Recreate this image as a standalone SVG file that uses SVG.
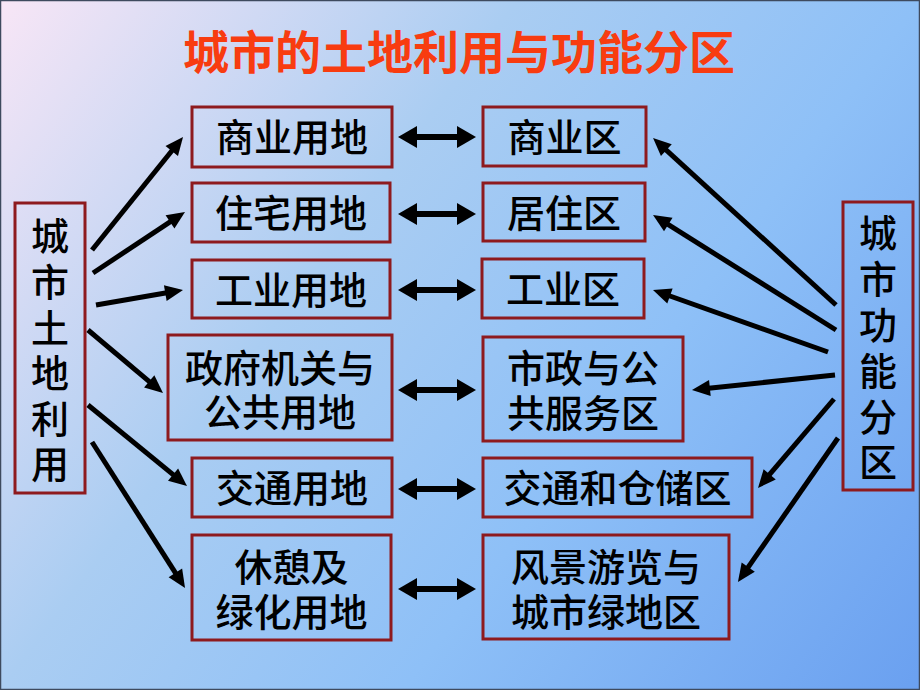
<svg xmlns="http://www.w3.org/2000/svg" width="920" height="690" viewBox="0 0 920 690">
<defs>
<linearGradient id="bg" gradientUnits="userSpaceOnUse" x1="0" y1="0" x2="920" y2="690">
<stop offset="0" stop-color="#F8E6F6"/>
<stop offset="0.36" stop-color="#AACDF2"/>
<stop offset="0.64" stop-color="#8EC0F7"/>
<stop offset="1" stop-color="#6AA0F0"/>
</linearGradient>
<marker id="ah" markerUnits="userSpaceOnUse" markerWidth="20" markerHeight="18" viewBox="0 -9 18 18" refX="6" refY="0" orient="auto">
<path d="M0,-8 L18,0 L0,8 z" fill="#000"/>
</marker>
<marker id="dh" markerUnits="userSpaceOnUse" markerWidth="20" markerHeight="24" viewBox="0 -12 19 24" refX="5" refY="0" orient="auto-start-reverse">
<path d="M0,-11 L19,0 L0,11 z" fill="#000"/>
</marker>
<style>
.box{fill:none;stroke:#8E1A1E;stroke-width:3}
.t{font-family:"Noto Sans CJK SC","Noto Sans CJK JP",sans-serif;font-size:38px;font-weight:500;fill:#000;text-anchor:middle}
.title{font-family:"Noto Sans CJK SC","Noto Sans CJK JP",sans-serif;font-size:46px;font-weight:bold;fill:#F83C10;text-anchor:middle}
.a{stroke:#000;stroke-width:5;fill:none;marker-end:url(#ah)}
.d{stroke:#000;stroke-width:6;fill:none;marker-start:url(#dh);marker-end:url(#dh)}
</style>
</defs>
<rect x="0" y="0" width="920" height="690" fill="url(#bg)"/>
<rect x="0.5" y="0.5" width="919" height="689" fill="none" stroke="#3E4A5E" stroke-width="1.5"/>
<text class="title" x="459" y="68.5">城市的土地利用与功能分区</text>

<g id="land-use">
<rect class="box" x="15" y="203" width="70" height="290"/>
<text class="t"><tspan x="50" y="250.4">城</tspan><tspan x="50" y="296">市</tspan><tspan x="50" y="341.6">土</tspan><tspan x="50" y="387.2">地</tspan><tspan x="50" y="432.8">利</tspan><tspan x="50" y="478.4">用</tspan></text>
</g>
<g id="function-zone">
<rect class="box" x="843" y="202" width="70" height="288"/>
<text class="t"><tspan x="878" y="247.4">城</tspan><tspan x="878" y="293.2">市</tspan><tspan x="878" y="339">功</tspan><tspan x="878" y="384.8">能</tspan><tspan x="878" y="430.6">分</tspan><tspan x="878" y="476.4">区</tspan></text>
</g>

<g id="commercial-land"><rect class="box" x="192" y="107" width="200" height="60"/><text class="t" x="292" y="151.4">商业用地</text></g>
<g id="residential-land"><rect class="box" x="192" y="183" width="198" height="59"/><text class="t" x="291" y="227">住宅用地</text></g>
<g id="industrial-land"><rect class="box" x="192" y="260" width="198" height="58"/><text class="t" x="291" y="303.5">工业用地</text></g>
<g id="public-land"><rect class="box" x="168" y="335" width="224" height="105"/><text class="t"><tspan x="280" y="382">政府机关与</tspan><tspan x="280" y="426">公共用地</tspan></text></g>
<g id="transport-land"><rect class="box" x="192" y="458" width="200" height="59"/><text class="t" x="292" y="502">交通用地</text></g>
<g id="green-land"><rect class="box" x="192" y="535" width="199" height="105"/><text class="t"><tspan x="291.5" y="580.5">休憩及</tspan><tspan x="291.5" y="625.5">绿化用地</tspan></text></g>

<g id="commercial-zone"><rect class="box" x="483" y="107" width="163" height="59"/><text class="t" x="564.5" y="151">商业区</text></g>
<g id="residential-zone"><rect class="box" x="483" y="183" width="162" height="58"/><text class="t" x="564" y="226.5">居住区</text></g>
<g id="industrial-zone"><rect class="box" x="482" y="259" width="162" height="59"/><text class="t" x="563" y="303">工业区</text></g>
<g id="public-zone"><rect class="box" x="483" y="337" width="200" height="104"/><text class="t"><tspan x="583" y="381.5">市政与公</tspan><tspan x="583" y="426.5">共服务区</tspan></text></g>
<g id="transport-zone"><rect class="box" x="483" y="458" width="269" height="59"/><text class="t" x="617.5" y="502">交通和仓储区</text></g>
<g id="green-zone"><rect class="box" x="483" y="535" width="246" height="104"/><text class="t"><tspan x="606" y="580.5">风景游览与</tspan><tspan x="606" y="625.5">城市绿地区</tspan></text></g>

<g id="connectors">
<line class="a" x1="92" y1="250" x2="175.5" y2="146.3"/>
<line class="a" x1="93" y1="273" x2="175" y2="218.6"/>
<line class="a" x1="96" y1="305" x2="171.2" y2="292"/>
<line class="a" x1="88" y1="330" x2="153.8" y2="385.3"/>
<line class="a" x1="88" y1="405" x2="177.7" y2="478.4"/>
<line class="a" x1="92" y1="442" x2="178.6" y2="577.9"/>

<line class="a" x1="836" y1="305" x2="661.9" y2="146.1"/>
<line class="a" x1="836" y1="330" x2="663.2" y2="221.4"/>
<line class="a" x1="828" y1="352" x2="664.3" y2="294"/>
<line class="a" x1="835" y1="375" x2="703.9" y2="388.7"/>
<line class="a" x1="834" y1="399" x2="765.8" y2="478.9"/>
<line class="a" x1="838" y1="438" x2="744.8" y2="572.1"/>

<line class="d" x1="412" y1="137" x2="462" y2="137"/>
<line class="d" x1="412" y1="214" x2="462" y2="214"/>
<line class="d" x1="412" y1="290" x2="462" y2="290"/>
<line class="d" x1="412" y1="390" x2="462" y2="390"/>
<line class="d" x1="412" y1="489" x2="462" y2="489"/>
<line class="d" x1="412" y1="589" x2="462" y2="589"/>
</g>
</svg>
